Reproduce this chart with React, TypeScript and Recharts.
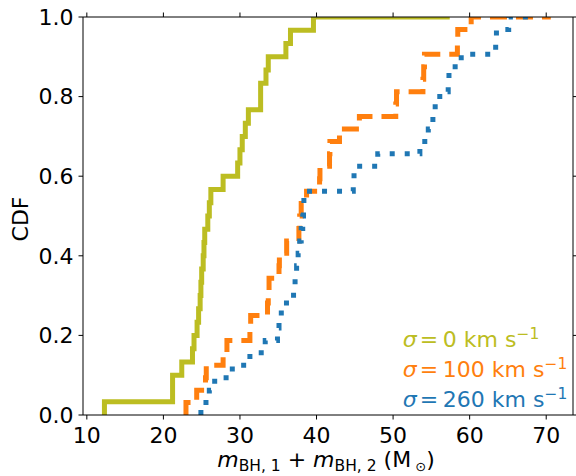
import { LineChart, Line, XAxis, YAxis } from "recharts";

// sorted masses of the merging pairs, one list per kick velocity
const sigma0 = [
  12.3, 21.2, 21.2, 22.4, 23.8, 24.0, 24.4, 24.6, 24.8, 24.9, 25.0, 25.2, 25.3,
  25.4, 25.8, 26.0, 26.2, 27.8, 29.7, 30.0, 30.3, 30.7, 31.1, 32.7, 32.7, 33.4,
  33.7, 36.0, 36.6, 39.6,
];
const sigma100 = [
  22.95, 24.35, 25.5, 25.6, 27.8, 28.3, 31.3, 31.4, 33.6, 33.7, 33.8, 35.1,
  35.15, 36.1, 37.7, 37.8, 38.0, 38.7, 40.4, 40.45, 41.7, 41.75, 43.0, 45.6,
  50.35, 50.45, 53.9, 54.0, 54.1, 58.4, 58.45, 60.2,
];
const sigma260 = [
  24.9, 26.0, 26.7, 29.0, 31.3, 33.3, 34.9, 35.1, 35.4, 37.0, 37.2, 37.4, 37.6,
  37.8, 38.0, 38.2, 38.3, 38.35, 44.8, 44.9, 48.0, 53.5, 54.6, 55.2, 55.5,
  56.1, 57.2, 57.3, 58.9, 63.4, 63.5, 65.1,
];
// where each curve stops at CDF = 1
const lineEnds = [57.4, 70.6, 68.3];

const xTicks = [10, 20, 30, 40, 50, 60, 70];
const yTicks = [0, 0.2, 0.4, 0.6, 0.8, 1.0];
const xDomain = [9.5, 73.5];

const OLIVE = "#bcbd22";
const ORANGE = "#ff7f0e";
const BLUE = "#1f77b4";
const FONT = "DejaVu Sans";

function cdf(values: number[], end: number) {
  const n = values.length;
  const pts = [{ x: values[0], y: 0 }];
  values.forEach((v, i) => pts.push({ x: v, y: (i + 1) / n }));
  pts.push({ x: end, y: 1 });
  return pts;
}

const tickStyle = { fill: "#000", fontSize: 22, fontFamily: FONT };
const noLabel = () => "";

function LegendRow({ y, color, value }: { y: number; color: string; value: string }) {
  return (
    <text x={402.7} y={y} fill={color} fontSize={22} fontFamily={FONT}>
      <tspan fontStyle="italic">σ</tspan>
      <tspan dx={3}>=</tspan>
      <tspan dx={4.7}>{value}</tspan>
      <tspan> km s</tspan>
      <tspan fontSize={15.5} dy={-8}>−1</tspan>
    </text>
  );
}

export default function App() {
  return (
    <div style={{ position: "absolute", left: 0, top: 0 }}>
      <LineChart
        width={576}
        height={476}
        margin={{ top: 6, right: 2, left: 23, bottom: 21 }}
      >
        <XAxis
          type="number"
          dataKey="x"
          domain={xDomain}
          allowDataOverflow
          ticks={xTicks}
          tickSize={4.5}
          tickMargin={8}
          stroke="#000"
          tick={tickStyle}
          height={40}
        />
        <XAxis
          xAxisId="top"
          orientation="top"
          type="number"
          dataKey="x"
          domain={xDomain}
          allowDataOverflow
          ticks={xTicks}
          tickFormatter={noLabel}
          tickSize={4.5}
          tickMargin={0}
          stroke="#000"
          height={11}
        />
        <YAxis
          type="number"
          domain={[0, 1]}
          allowDataOverflow
          ticks={yTicks}
          tickFormatter={(v: number) => v.toFixed(1)}
          tickSize={4.5}
          tickMargin={5}
          stroke="#000"
          tick={tickStyle}
          width={60}
        />
        <YAxis
          yAxisId="right"
          orientation="right"
          type="number"
          domain={[0, 1]}
          allowDataOverflow
          ticks={yTicks}
          tickFormatter={noLabel}
          tickSize={4.5}
          tickMargin={0}
          stroke="#000"
          width={1}
        />
        <Line
          data={cdf(sigma0, lineEnds[0])}
          dataKey="y"
          type="stepAfter"
          stroke={OLIVE}
          strokeWidth={5}
          dot={false}
          isAnimationActive={false}
        />
        <Line
          data={cdf(sigma100, lineEnds[1])}
          dataKey="y"
          type="stepAfter"
          stroke={ORANGE}
          strokeWidth={5}
          strokeDasharray="17 9"
          dot={false}
          isAnimationActive={false}
        />
        <Line
          xAxisId="top"
          yAxisId="right"
          data={cdf(sigma260, lineEnds[2])}
          dataKey="y"
          type="stepAfter"
          stroke={BLUE}
          strokeWidth={5}
          strokeDasharray="5 10"
          dot={false}
          isAnimationActive={false}
        />
        <LegendRow y={346.5} color={OLIVE} value="0" />
        <LegendRow y={376.5} color={ORANGE} value="100" />
        <LegendRow y={406.5} color={BLUE} value="260" />
        <text
          x={28}
          y={219}
          transform="rotate(-90, 28, 219)"
          textAnchor="middle"
          fontSize={22}
          fontFamily={FONT}
          fill="#000"
        >
          CDF
        </text>
        <text x={326} y={467} textAnchor="middle" fontSize={22} fontFamily={FONT} fill="#000">
          <tspan fontStyle="italic">m</tspan>
          <tspan fontSize={15.5} dy={3.5}>BH, 1</tspan>
          <tspan dy={-3.5}> + </tspan>
          <tspan fontStyle="italic">m</tspan>
          <tspan fontSize={15.5} dy={3.5}>BH, 2</tspan>
          <tspan dy={-3.5}> (M</tspan>
          <tspan fontSize={13} dy={3.5}> ⊙</tspan>
          <tspan dy={-3.5}>)</tspan>
        </text>
      </LineChart>
    </div>
  );
}
